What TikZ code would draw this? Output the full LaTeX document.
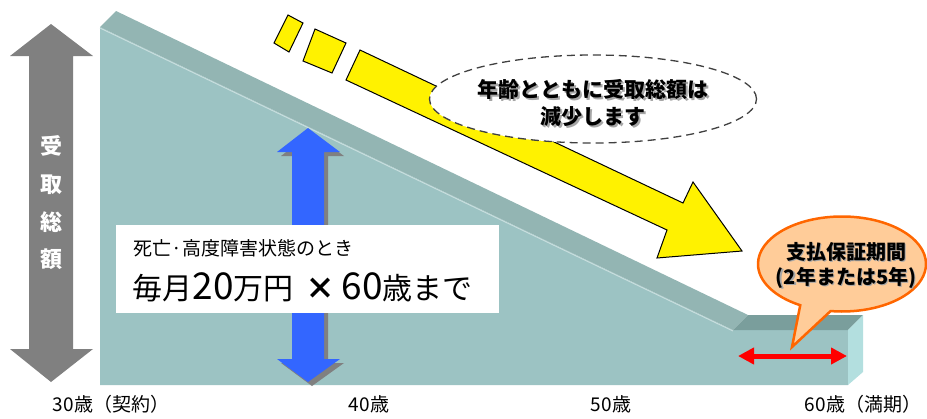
\documentclass[tikz,border=0pt]{standalone}
\usepackage{fontspec}
\setmainfont{Noto Sans CJK JP}
\usetikzlibrary{shapes.geometric,shapes.callouts,arrows.meta}

\definecolor{frente}{HTML}{9CC3C3}
\definecolor{tapa}{HTML}{93B5B3}
\definecolor{tapaplana}{HTML}{7A9E9C}
\definecolor{lado}{HTML}{B3DFDF}
\definecolor{gris}{HTML}{808080}
\definecolor{azul}{HTML}{3366FF}
\definecolor{naranja}{HTML}{FF6600}
\definecolor{melocoton}{HTML}{FFCC99}

\newcommand{\cifra}[1]{{\fontsize{37}{34}\selectfont #1}}

\begin{document}
\begin{tikzpicture}[x=1pt,y=-1pt]
    \useasboundingbox (0,0) rectangle (927,418);

    % Bloque en escalera
    \fill[frente] (100,27) -- (733,330) -- (848,330) -- (848,385) -- (100,385) -- cycle;
    \fill[tapa] (100,27) -- (116,11) -- (748,315) -- (733,330) -- cycle;
    \fill[tapaplana] (733,330) -- (748,315) -- (863,315) -- (848,330) -- cycle;
    \fill[lado] (848,330) -- (863,315) -- (863,372) -- (848,385) -- cycle;
    \draw[white!45!frente, line width=1pt] (100,28) -- (733,331);

    % Flecha gris (eje)
    \fill[gris] (51,24) -- (93,56) -- (73,56) -- (73,349) -- (93,349) -- (51,382)
        -- (10,349) -- (29,349) -- (29,56) -- (10,56) -- cycle;
    \node[white, font=\bfseries\fontsize{22}{37.7}\selectfont, align=center] (eje) at (51,203)
        {受\\取\\総\\額};

    % Flecha azul con sombra
    \foreach \d/\c in {4/gris, 0/azul} {
        \fill[\c, shift={(\d,\d)}] (308,128) -- (340,152) -- (324,152) -- (324,359) -- (340,359)
            -- (308,382) -- (277,359) -- (292,359) -- (292,152) -- (277,152) -- cycle;
    }

    % Recuadro blanco
    \fill[white] (116,225) rectangle (499,313);
    \node[anchor=west, font=\fontsize{19}{22}\selectfont] (linea1) at (130,248) {死亡·高度障害状態のとき};
    \node[anchor=west, font=\fontsize{30}{34}\selectfont] (linea2) at (129,287)
        {毎月\cifra{20}万円\hspace{12pt}\textbf{×}\hspace{6pt}\cifra{60}歳まで};

    % Flecha amarilla
    \draw[fill=yellow, line width=1pt] (288,15) -- (303,23) -- (289,52) -- (274,43) -- cycle;
    \draw[fill=yellow, line width=1pt] (315,29) -- (346,43) -- (332,73) -- (303,61) -- cycle;
    \draw[fill=yellow, line width=1pt] (360,50) -- (683,203) -- (693,182) -- (742,251)
        -- (657,258) -- (667,230) -- (346,80) -- cycle;

    % Globo punteado
    \node[ellipse, draw=black!75, dash pattern=on 8pt off 5pt, line width=1.3pt, fill=white,
        minimum width=327pt, minimum height=88pt] (globo) at (593,99) {};
    \node[gray!70, font=\bfseries\fontsize{21}{27}\selectfont, align=center] at (594.5,104.5)
        {年齢とともに受取総額は\\減少します};
    \node[font=\bfseries\fontsize{21}{27}\selectfont, align=center] (texto) at (593,103)
        {年齢とともに受取総額は\\減少します};

    % Periodo de pago
    \coordinate (ini) at (738,356);
    \coordinate (fin) at (847,356);
    \draw[red, line width=5pt, {Triangle[length=16pt,width=16pt]}-{Triangle[length=16pt,width=16pt]}]
        (ini) -- (fin);

    % Bocadillo naranja
    \node[ellipse callout, draw=naranja, line width=2.5pt, fill=melocoton,
        minimum width=168pt, minimum height=95pt, callout pointer arc=22,
        callout absolute pointer={(792,347)}] (bocadillo) at (842,264) {};
    \node[gray!70, font=\bfseries\fontsize{20}{25}\selectfont, align=center] at (847.5,266.5)
        {支払保証期間\\(2年または5年)};
    \node[font=\bfseries\fontsize{20}{25}\selectfont, align=center] (plazo) at (846,265)
        {支払保証期間\\(2年または5年)};

    % Edades
    \foreach \x/\t/\n in {111/30歳（契約）/a, 369/40歳/b, 611/50歳/c, 863/60歳（満期）/d} {
        \node[font=\fontsize{19}{21}\selectfont] (edad\n) at (\x,404) {\t};
    }

\end{tikzpicture}
\end{document}
